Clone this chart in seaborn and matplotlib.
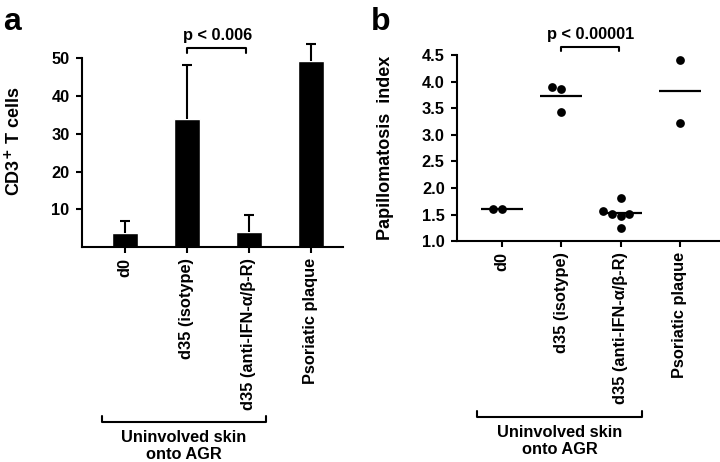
import numpy as np
import pandas as pd
import matplotlib
matplotlib.use('Agg')
import matplotlib.pyplot as plt
import matplotlib.transforms as mtransforms
from matplotlib.ticker import FormatStrFormatter
import seaborn as sns

# ---- data ----
groups = ['d0', 'd35 (isotype)', 'd35 (anti-IFN-α/β-R)', 'Psoriatic plaque']

# panel a: mean CD3+ T cells and upper SD
cd3_mean = [3.7, 33.8, 3.9, 49.4]
cd3_sd = [3.2, 14.4, 4.6, 4.5]

# panel b: papillomatosis index, individual values
pap_d0 = [1.60, 1.60]
pap_iso = [3.86, 3.89, 3.42]
pap_anti = [1.82, 1.57, 1.47, 1.52, 1.52, 1.25]
pap_pso = [4.41, 3.23]

pap_df = pd.DataFrame({
    'group': [groups[0]] * len(pap_d0) + [groups[1]] * len(pap_iso)
             + [groups[2]] * len(pap_anti) + [groups[3]] * len(pap_pso),
    'value': pap_d0 + pap_iso + pap_anti + pap_pso,
})

sns.set_theme(style='ticks')
plt.rcParams['font.family'] = ['Liberation Sans', 'DejaVu Sans']
plt.rcParams['font.weight'] = 'bold'
plt.rcParams['axes.labelweight'] = 'bold'
for key in ('text.color', 'axes.labelcolor', 'xtick.color', 'ytick.color',
            'axes.edgecolor'):
    plt.rcParams[key] = 'black'

fig = plt.figure(figsize=(7.2, 4.62), dpi=100)
ax_a = fig.add_axes([0.114, 0.465, 0.362, 0.458])
ax_b = fig.add_axes([0.635, 0.478, 0.365, 0.403])

TICK_FS = 11.8

# ==============================================================================
# Panel a: bar chart with upper-only SD bars
# ==============================================================================
sns.barplot(x=groups, y=cd3_mean, order=groups, color='black', width=0.42,
            errorbar=None, ax=ax_a, saturation=1)
err_top = np.array(cd3_mean) + np.array(cd3_sd)
ax_a.vlines(range(len(groups)), cd3_mean, err_top, color='black', lw=1.5,
            clip_on=False)
ax_a.scatter(range(len(groups)), err_top, marker='_', s=60, linewidths=1.5,
             color='black', clip_on=False, zorder=3)
ax_a.set_xlim(-0.69, 3.52)
ax_a.set_ylim(0, 56)
ax_a.set_yticks([10, 20, 30, 40, 50])
ax_a.spines['left'].set_bounds(0, 50)
ax_a.set_ylabel('CD3$^{+}$ T cells', fontsize=13, fontweight='bold', labelpad=20)

# p-value bracket
ax_a.plot([1, 1, 1.95, 1.95], [51.5, 52.6, 52.6, 51.5], color='black', lw=1.5,
          clip_on=False)
ax_a.text(1.5, 54.0, 'p < 0.006', ha='center', va='bottom', fontsize=TICK_FS,
          fontweight='bold')

# ==============================================================================
# Panel b: dot plot with means
# ==============================================================================
sns.swarmplot(data=pap_df, x='group', y='value', order=groups, color='black',
              size=6.3, ax=ax_b, clip_on=False)
sns.pointplot(data=pap_df, x='group', y='value', order=groups, color='black',
              estimator='mean', errorbar=None, linestyle='none', marker='_',
              markersize=30, markeredgewidth=1.6, ax=ax_b)
ax_b.set_xlim(-0.76, 3.68)
ax_b.set_ylim(1.0, 4.5)
ax_b.set_yticks(np.arange(1.0, 4.51, 0.5))
ax_b.yaxis.set_major_formatter(FormatStrFormatter('%.1f'))
ax_b.set_ylabel('Papillomatosis  index', fontsize=13, fontweight='bold', labelpad=20)
ax_b.set_xlabel('')

ax_b.plot([1, 1, 1.98, 1.98], [4.57, 4.65, 4.65, 4.57], color='black', lw=1.5,
          clip_on=False)
ax_b.text(1.49, 4.74, 'p < 0.00001', ha='center', va='bottom', fontsize=TICK_FS,
          fontweight='bold')

# ==============================================================================
# Shared styling
# ==============================================================================
for ax in (ax_a, ax_b):
    sns.despine(ax=ax)
    ax.spines['left'].set_linewidth(1.5)
    ax.spines['bottom'].set_linewidth(1.5)
    ax.tick_params(axis='both', direction='out', width=1.5, length=4,
                   labelsize=TICK_FS, color='black', labelcolor='black')
    ax.tick_params(axis='y', pad=5)
    ax.set_xticks(range(len(groups)))
    ax.set_xticklabels(groups, rotation=90, ha='center', va='top',
                       fontweight='bold', fontsize=TICK_FS)
    for lbl in ax.get_yticklabels():
        lbl.set_fontweight('bold')
    ax.set_xlabel('')
    ax.patch.set_alpha(0)

# panel letters
fig.text(0.005, 0.985, 'a', fontsize=23, fontweight='bold', va='top')
fig.text(0.515, 0.985, 'b', fontsize=23, fontweight='bold', va='top')

# "Uninvolved skin onto AGR" brackets below the tick labels
for ax, x0, x1, ybar, ytext in ((ax_a, -0.37, 2.28, 0.086, 0.070),
                                (ax_b, -0.42, 2.37, 0.097, 0.081)):
    tr = mtransforms.blended_transform_factory(ax.transData, fig.transFigure)
    line = plt.Line2D([x0, x0, x1, x1], [ybar + 0.013, ybar, ybar, ybar + 0.013],
                      transform=tr, color='black', lw=1.5, clip_on=False)
    fig.add_artist(line)
    fig.text((x0 + x1) / 2, ytext, 'Uninvolved skin\nonto AGR', transform=tr,
             ha='center', va='top', fontsize=TICK_FS, fontweight='bold',
             linespacing=1.2)

fig.savefig('out.png', dpi=100)
